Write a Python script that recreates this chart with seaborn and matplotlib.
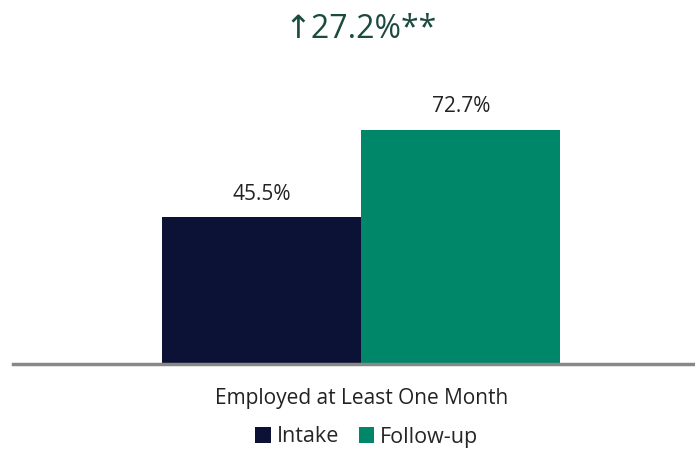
import pandas as pd
import seaborn as sns
import matplotlib.pyplot as plt

categories = ["Employed at Least One Month"]
series = ["Intake", "Follow-up"]
values = [45.5, 72.7]
change_label = "\u219127.2%**"

df = pd.DataFrame({
    "category": categories * len(series),
    "series": series,
    "value": values,
})

sns.set_theme(style="white")
plt.rcParams["font.family"] = ["Open Sans", "DejaVu Sans"]

colors = ["#0b1235", "#00876a"]

fig = plt.figure(figsize=(6.95, 4.49), dpi=100)
ax = fig.add_axes([13 / 695, 85 / 449, 682 / 695, 334 / 449])

sns.barplot(
    data=df, x="category", y="value", hue="series",
    palette=colors, width=0.8, saturation=1, linewidth=0, ax=ax, legend=True
)

for container in ax.containers:
    ax.bar_label(container, labels=[f"{v:.1f}%" for v in container.datavalues],
                 padding=9, fontsize=15, color="#222222")

ax.set_xlim(-0.70, 0.671)
ax.set_ylim(0, 103.6)
ax.set_yticks([])
ax.set_xlabel("")
ax.set_ylabel("")
ax.tick_params(axis="x", labelsize=15, colors="#222222", length=0, pad=17)
for s in ["top", "right", "left"]:
    ax.spines[s].set_visible(False)
ax.spines["bottom"].set_color("#888888")
ax.spines["bottom"].set_linewidth(2.5)

fig.text(361 / 695, 1 - 30 / 449, change_label, ha="center", va="center",
         fontsize=23, color="#1b4a3e")

leg = ax.legend(loc="center", bbox_to_anchor=(367 / 695, 1 - 437 / 449),
                bbox_transform=fig.transFigure, ncol=2, frameon=False,
                fontsize=15.5, handlelength=0.7, handleheight=0.7,
                handletextpad=0.3, columnspacing=0.9)

fig.savefig("out.png", dpi=100)
